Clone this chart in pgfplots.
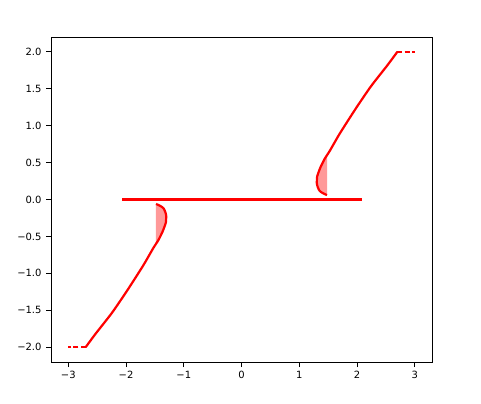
\documentclass[border=0pt]{standalone}
\usepackage{fontspec}
\setmainfont{DejaVu Sans}
\usepackage{pgfplots}
\usepackage{pgfplotstable}
\pgfplotsset{compat=1.18}

% upper branch (lower one is its point reflection)
\pgfplotstableread{
x y
1.48 0.06
1.40 0.09
1.35 0.12
1.32 0.17
1.305 0.22
1.31 0.31
1.34 0.38
1.37 0.44
1.44 0.55
1.53 0.66
1.70 0.89
1.97 1.22
2.24 1.53
2.53 1.82
2.70 2.00
}\upbranch
\pgfplotstableread{
x y
-1.48 -0.06
-1.40 -0.09
-1.35 -0.12
-1.32 -0.17
-1.305 -0.22
-1.31 -0.31
-1.34 -0.38
-1.37 -0.44
-1.44 -0.55
-1.53 -0.66
-1.70 -0.89
-1.97 -1.22
-2.24 -1.53
-2.53 -1.82
-2.70 -2.00
}\lowbranch

\begin{document}
\begin{tikzpicture}[x=1bp,y=1bp]
\path[use as bounding box] (0,0) rectangle (481,403);
\begin{axis}[
    at={(51bp,41bp)}, anchor=south west,
    scale only axis,
    width=381bp, height=325bp,
    xmin=-3.3, xmax=3.3,
    ymin=-2.2, ymax=2.2,
    xtick={-3,-2,-1,0,1,2,3},
    xticklabels={−3,−2,−1,0,1,2,3},
    ytick={-2,-1.5,-1,-0.5,0,0.5,1,1.5,2},
    yticklabels={−2.0,−1.5,−1.0,−0.5,0.0,0.5,1.0,1.5,2.0},
    tick pos=left,
    tick align=outside,
    major tick length=5bp,
    tick style={black, line width=0.8pt},
    axis line style={line width=0.8pt},
    ticklabel style={font=\fontsize{10}{12}\selectfont},
    xticklabel style={yshift=-1bp},
    yticklabel style={xshift=-1bp},
]
% shaded pockets
\addplot[draw=red!40, fill=red, fill opacity=0.4, line width=0.5pt] coordinates {
    (1.48,0.06) (1.40,0.09) (1.35,0.12) (1.32,0.17) (1.305,0.22) (1.31,0.31)
    (1.34,0.38) (1.37,0.44) (1.44,0.55) (1.48,0.60) (1.48,0.06)};
\addplot[draw=red!40, fill=red, fill opacity=0.4, line width=0.5pt] coordinates {
    (-1.48,-0.06) (-1.40,-0.09) (-1.35,-0.12) (-1.32,-0.17) (-1.305,-0.22) (-1.31,-0.31)
    (-1.34,-0.38) (-1.37,-0.44) (-1.44,-0.55) (-1.48,-0.60) (-1.48,-0.06)};
% dashed tails
\addplot[draw=red, line width=1.6bp, dash pattern=on 5bp off 2.2bp] coordinates {(2.70,2) (3.0,2)};
\addplot[draw=red, line width=1.6bp, dash pattern=on 5bp off 2.2bp] coordinates {(-2.70,-2) (-3.0,-2)};
% curves
\addplot[red, line width=2.2bp, smooth, tension=0.4] table {\upbranch};
\addplot[red, line width=2.2bp, smooth, tension=0.4] table {\lowbranch};
\addplot[red, line width=2.2bp] coordinates {(-2.07,0) (2.08,0)};
\end{axis}
\end{tikzpicture}
\end{document}
